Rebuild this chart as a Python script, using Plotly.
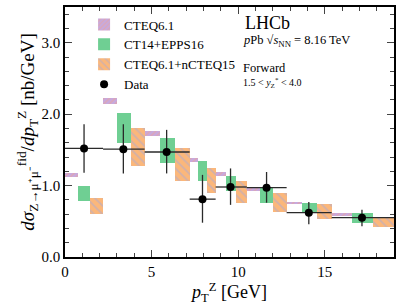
import plotly.graph_objects as go

# ---- data ----
bin_edges = [0.0, 2.2, 4.6, 7.2, 8.7, 10.5, 12.8, 15.4, 19.0]

data_x = [1.10, 3.37, 5.87, 7.94, 9.56, 11.64, 14.08, 17.15]
data_y = [1.52, 1.51, 1.47, 0.81, 0.98, 0.97, 0.62, 0.55]
data_err_hi = [0.34, 0.35, 0.31, 0.34, 0.26, 0.22, 0.15, 0.11]
data_err_lo = [0.34, 0.34, 0.30, 0.33, 0.25, 0.21, 0.16, 0.12]

cteq_lo = [1.12, 2.14, 1.69, 1.33, 1.14, 0.92, 0.74, 0.58]
cteq_hi = [1.18, 2.23, 1.76, 1.39, 1.19, 0.96, 0.77, 0.61]
ct14_lo = [0.79, 1.59, 1.32, 1.06, 0.92, 0.76, 0.61, 0.48]
ct14_hi = [1.00, 2.02, 1.67, 1.35, 1.13, 0.97, 0.76, 0.61]
ncteq_lo = [0.60, 1.27, 1.07, 0.89, 0.76, 0.63, 0.53, 0.42]
ncteq_hi = [0.83, 1.81, 1.52, 1.24, 1.07, 0.90, 0.74, 0.56]

series = [
    ("CTEQ6.1", cteq_lo, cteq_hi, 0),
    ("CT14+EPPS16", ct14_lo, ct14_hi, 1),
    ("CTEQ6.1+nCTEQ15", ncteq_lo, ncteq_hi, 2),
]
styles = {
    0: dict(color="#c6a9df", pattern=dict(shape="/", fgcolor="#f2a28e", size=4, solidity=0.4)),
    1: dict(color="#6fcf93"),
    2: dict(color="#fbb77a", pattern=dict(shape="\\", fgcolor="#a7a9d9", size=6, solidity=0.3)),
}

FONT = "Liberation Serif"
fig = go.Figure()

for name, lo, hi, k in series:
    xs, ws, bases, lens = [], [], [], []
    for i in range(len(bin_edges) - 1):
        a, b = bin_edges[i], bin_edges[i + 1]
        w = (b - a) / 3.0
        xs.append(a + w * (k + 0.5))
        ws.append(w)
        bases.append(lo[i])
        lens.append(hi[i] - lo[i])
    fig.add_trace(go.Bar(
        x=xs, y=lens, base=bases, width=ws, name=name,
        marker=dict(line=dict(width=0), **styles[k]),
    ))

ex_plus = [bin_edges[i + 1] - data_x[i] for i in range(len(data_x))]
ex_minus = [data_x[i] - bin_edges[i] for i in range(len(data_x))]
fig.add_trace(go.Scatter(
    x=data_x, y=data_y, mode="markers", name="Data",
    marker=dict(color="black", size=8),
    error_x=dict(type="data", array=ex_plus, arrayminus=ex_minus, symmetric=False,
                 color="#2a2a2a", thickness=1.3, width=0),
    error_y=dict(type="data", array=data_err_hi, arrayminus=data_err_lo, symmetric=False,
                 color="#2a2a2a", thickness=1.3, width=0),
))

fig.update_layout(
    width=399, height=307,
    margin=dict(l=65, r=5, t=7, b=50, autoexpand=False),
    paper_bgcolor="white", plot_bgcolor="white",
    barmode="overlay", bargap=0,
    font=dict(family=FONT, color="black", size=14),
    showlegend=True,
    legend=dict(x=0.058, y=0.99, xanchor="left", yanchor="top",
                bgcolor="rgba(0,0,0,0)", font=dict(size=13, family=FONT),
                tracegroupgap=0, itemwidth=30),
)

fig.update_xaxes(
    range=[0, 19], tick0=0, dtick=5, ticks="inside", ticklen=7, tickwidth=1.2,
    minor=dict(ticks="inside", ticklen=4, dtick=1, tickwidth=1),
    showline=True, linecolor="black", linewidth=1.5, mirror="allticks",
    showgrid=False, zeroline=False, tickfont=dict(size=15), automargin=False,
    title=dict(text="<i>p</i><sub>T</sub><sup>Z</sup> [GeV]", font=dict(size=18), standoff=0),
)
fig.update_yaxes(
    range=[0, 3.5], tick0=0, dtick=1, tickformat=".1f", ticks="inside", ticklen=7, tickwidth=1.2,
    minor=dict(ticks="inside", ticklen=4, dtick=0.2, tickwidth=1),
    showline=True, linecolor="black", linewidth=1.5, mirror="allticks",
    showgrid=False, zeroline=False, tickfont=dict(size=15), automargin=False,
    title=dict(text="<i>dσ</i><sub>Z→μ⁺μ⁻</sub><sup>fid</sup>/<i>dp</i><sub>T</sub><sup>Z</sup> [nb/GeV]",
               font=dict(size=19), standoff=2),
)

ann = [
    ("LHCb", 0.54, 0.936, 18),
    ("<i>p</i>Pb √<i>s</i><sub>NN</sub> = 8.16 TeV", 0.534, 0.864, 12.5),
    ("Forward", 0.534, 0.758, 12.5),
    ("1.5 < <i>y</i><sub>Z</sub><sup>*</sup> < 4.0", 0.534, 0.698, 10),
]
for t, x, y, s in ann:
    fig.add_annotation(text=t, x=x, y=y, xref="paper", yref="paper",
                       xanchor="left", yanchor="middle", showarrow=False,
                       font=dict(size=s, family=FONT, color="black"))

fig.write_html("out.html", config={"displayModeBar": False},
               post_script="document.body.style.margin='0px';document.body.style.overflow='hidden';")
